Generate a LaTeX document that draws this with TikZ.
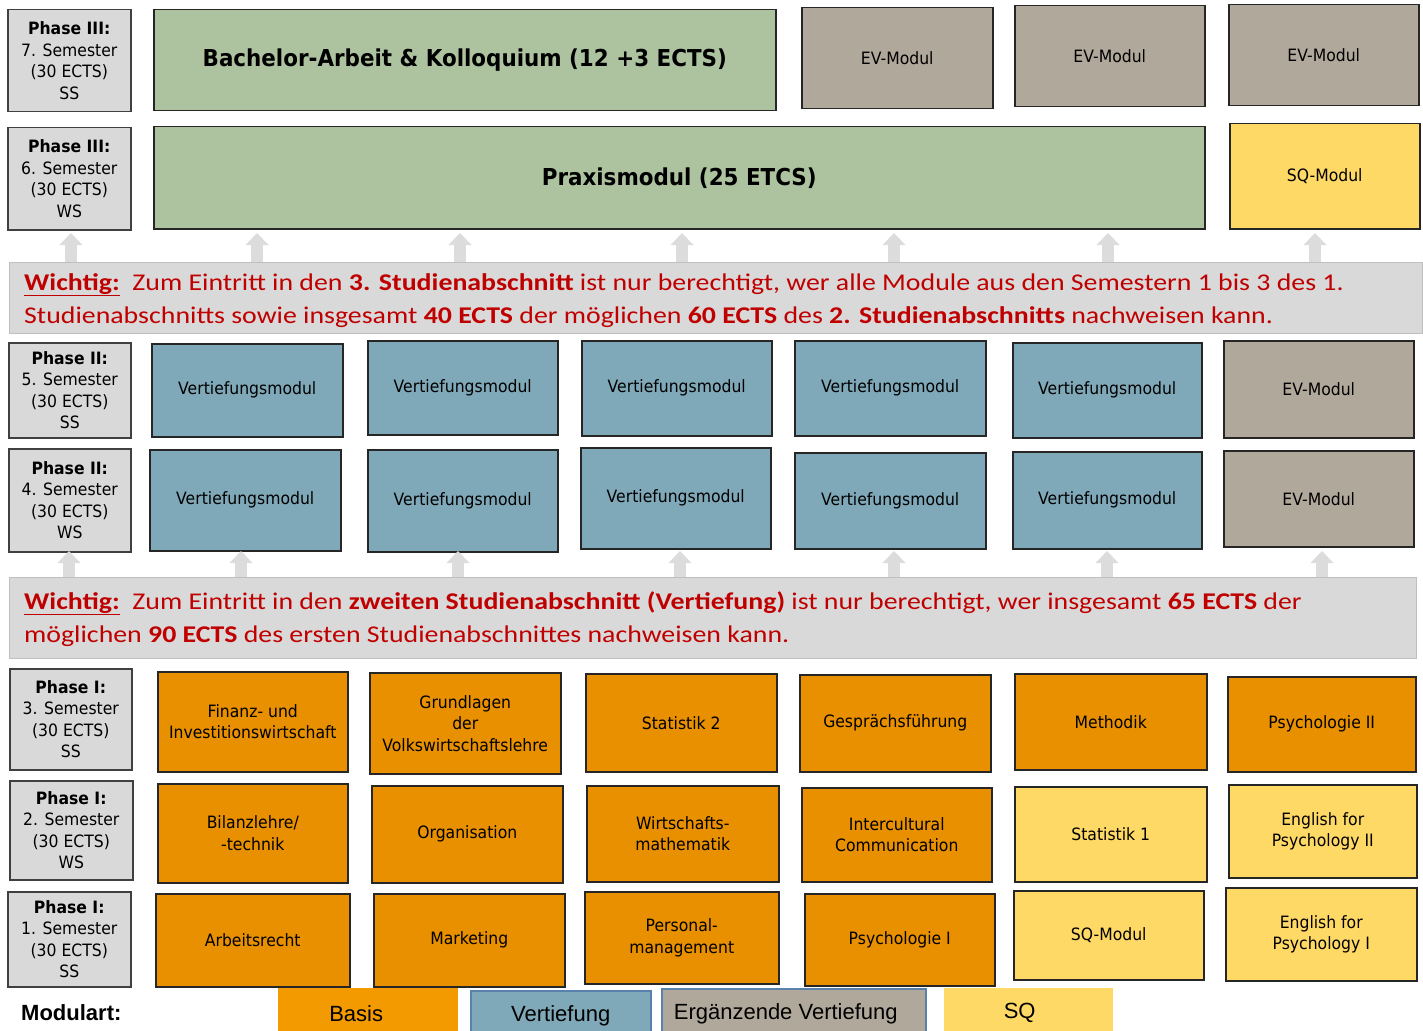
\documentclass[tikz,border=0pt]{standalone}
\usepackage{fontspec}
\setmainfont{DejaVu Sans}[FakeStretch=0.92]
\newfontfamily\noticefont{Carlito}[FakeStretch=1.16]
\newfontfamily\legendfont{Liberation Sans}
\usepackage{xcolor}
\usetikzlibrary{arrows.meta,positioning}
\definecolor{phasegray}{HTML}{D9D9D9}
\definecolor{bargray}{HTML}{BFBFBF}
\definecolor{arrowgray}{HTML}{DCDCDC}
\definecolor{thesisgreen}{HTML}{ADC3A0}
\definecolor{evtaupe}{HTML}{B0A89B}
\definecolor{sqyellow}{HTML}{FFD966}
\definecolor{vertblue}{HTML}{7FA9B8}
\definecolor{basisorange}{HTML}{E89000}
\definecolor{basislegend}{HTML}{F29A00}
\definecolor{legendblue}{HTML}{5A80AC}
\definecolor{noticered}{HTML}{C00000}

\begin{document}
\begin{tikzpicture}[x=1pt,y=-1pt,
	size/.style 2 args={minimum width=#1,minimum height=#2},
	phase/.style={draw=black!75,line width=1.5pt,fill=phasegray,anchor=north west,align=center,inner sep=0pt,font=\fontsize{17}{21.5}\selectfont},
	modul/.style={draw=black!85,line width=1.5pt,anchor=north west,align=center,inner sep=0pt,font=\fontsize{17}{21.5}\selectfont},
	basis/.style={modul,fill=basisorange},
	vert/.style={modul,fill=vertblue},
	ev/.style={modul,fill=evtaupe},
	sq/.style={modul,fill=sqyellow},
	abschluss/.style={modul,fill=thesisgreen,font=\bfseries\fontsize{23.3}{27}\selectfont},
	hinweis/.style={draw=bargray,line width=1pt,fill=phasegray,anchor=north west},
	notice/.style={anchor=base west,inner sep=0pt,text=noticered,font=\noticefont\fontsize{24}{28}\selectfont},
	uparrow/.style={draw=arrowgray,line width=12pt,-{Triangle[width=23pt,length=12pt,line width=0pt]}},
	legende/.style={anchor=north west,inner sep=0pt,font=\legendfont\fontsize{22}{26}\selectfont}]
	\useasboundingbox (0,0) rectangle (1423,1030);

	\node[phase,size={123}{102}] (ph7) at (7,9) {\textbf{Phase III:}\\7. Semester\\(30 ECTS)\\SS};
	\node[abschluss,size={622}{101}] (bachelor) at (153,9) {Bachelor-Arbeit \& Kolloquium (12 +3 ECTS)};
	\node[ev,size={191}{101}] (ev7a) at (801,7) {EV-Modul};
	\node[ev,size={190}{101}] (ev7b) at (1014,5) {EV-Modul};
	\node[ev,size={190}{101}] (ev7c) at (1228,4) {EV-Modul};

	\node[phase,size={123}{102}] (ph6) at (7,127) {\textbf{Phase III:}\\6. Semester\\(30 ECTS)\\WS};
	\node[abschluss,size={1051}{102}] (praxis) at (153,126) {Praxismodul (25 ETCS)};
	\node[sq,size={190}{105}] (sq6) at (1229,123) {SQ-Modul};

	\node[hinweis,size={1413}{71}] (hinweisA) at (9,262) {};
	\foreach \x in {71,257,460,682,894,1108,1315}
		\draw[uparrow] (hinweisA.north -| \x,0) -- ++(0,-29);
	\node[notice] (hinweisA1) at (24,290) {\underline{\textbf{Wichtig:}}\ \ Zum Eintritt in den \textbf{3. Studienabschnitt} ist nur berechtigt, wer alle Module aus den Semestern 1 bis 3 des 1.};
	\node[notice] (hinweisA2) at (24,323) {Studienabschnitts sowie insgesamt \textbf{40 ECTS} der möglichen \textbf{60 ECTS} des \textbf{2. Studienabschnitts} nachweisen kann.};

	\node[phase,size={122}{95}] (ph5) at (8,342) {\textbf{Phase II:}\\5. Semester\\(30 ECTS)\\SS};
	\node[vert,size={191}{93}] (v5a) at (151,343) {Vertiefungsmodul};
	\node[vert,size={190}{94}] (v5b) at (367,340) {Vertiefungsmodul};
	\node[vert,size={190}{95}] (v5c) at (581,340) {Vertiefungsmodul};
	\node[vert,size={191}{95}] (v5d) at (794,340) {Vertiefungsmodul};
	\node[vert,size={189}{95}] (v5e) at (1012,342) {Vertiefungsmodul};
	\node[ev,size={190}{97}] (ev5) at (1223,340) {EV-Modul};

	\node[phase,size={122}{103}] (ph4) at (8,448) {\textbf{Phase II:}\\4. Semester\\(30 ECTS)\\WS};
	\node[vert,size={191}{101}] (v4a) at (149,449) {Vertiefungsmodul};
	\node[vert,size={190}{102}] (v4b) at (367,449) {Vertiefungsmodul};
	\node[vert,size={190}{101}] (v4c) at (580,447) {Vertiefungsmodul};
	\node[vert,size={191}{96}] (v4d) at (794,452) {Vertiefungsmodul};
	\node[vert,size={189}{97}] (v4e) at (1012,451) {Vertiefungsmodul};
	\node[ev,size={190}{96}] (ev4) at (1223,450) {EV-Modul};

	\node[hinweis,size={1407}{81}] (hinweisB) at (9,577) {};
	\foreach \x in {69,241,458,680,894,1107,1322}
		\draw[uparrow] (hinweisB.north -| \x,0) -- ++(0,-26);
	\node[notice] (hinweisB1) at (24,609) {\underline{\textbf{Wichtig:}}\ \ Zum Eintritt in den \textbf{zweiten Studienabschnitt (Vertiefung)} ist nur berechtigt, wer insgesamt \textbf{65 ECTS} der};
	\node[notice] (hinweisB2) at (24,642) {möglichen \textbf{90 ECTS} des ersten Studienabschnittes nachweisen kann.};

	\node[phase,size={122}{101}] (ph3) at (9,668) {\textbf{Phase I:}\\3. Semester\\(30 ECTS)\\SS};
	\node[basis,size={190}{100}] (finanz) at (157,671) {Finanz- und\\Investitionswirtschaft};
	\node[basis,size={191}{101}] (vwl) at (369,672) {Grundlagen\\der\\Volkswirtschaftslehre};
	\node[basis,size={191}{98}] (stat2) at (585,673) {Statistik 2};
	\node[basis,size={191}{97}] (gespraech) at (799,674) {Gesprächsführung};
	\node[basis,size={192}{96}] (methodik) at (1014,673) {Methodik};
	\node[basis,size={188}{95}] (psych2) at (1227,676) {Psychologie II};

	\node[phase,size={123}{99}] (ph2) at (9,780) {\textbf{Phase I:}\\2. Semester\\(30 ECTS)\\WS};
	\node[basis,size={190}{99}] (bilanz) at (157,783) {Bilanzlehre/\\-technik};
	\node[basis,size={191}{97}] (orga) at (371,785) {Organisation};
	\node[basis,size={192}{96}] (wimathe) at (586,785) {Wirtschafts-\\mathematik};
	\node[basis,size={190}{94}] (intercult) at (801,787) {Intercultural\\Communication};
	\node[sq,size={192}{95}] (stat1) at (1014,786) {Statistik 1};
	\node[sq,size={188}{93}] (engl2) at (1228,784) {English for\\Psychology II};

	\node[phase,size={123}{95}] (ph1) at (7,891) {\textbf{Phase I:}\\1. Semester\\(30 ECTS)\\SS};
	\node[basis,size={194}{93}] (arbeitsr) at (155,893) {Arbeitsrecht};
	\node[basis,size={191}{93}] (marketing) at (373,893) {Marketing};
	\node[basis,size={194}{92}] (personal) at (584,891) {Personal-\\management};
	\node[basis,size={190}{92}] (psych1) at (804,893) {Psychologie I};
	\node[sq,size={190}{89}] (sq1) at (1013,890) {SQ-Modul};
	\node[sq,size={191}{93}] (engl1) at (1225,887) {English for\\Psychology I};

	\node[legende,anchor=west,font=\legendfont\bfseries\fontsize{22}{26}\selectfont] (modulart) at (21,1013) {Modulart:};
	\node[legende,fill=basislegend,size={180}{50}] (lgbasis) at (278,988) {Basis\hspace*{24pt}};
	\node[legende,fill=vertblue,draw=legendblue,line width=1.5pt,size={180}{50}] (lgvert) at (470,990) {Vertiefung};
	\node[legende,fill=evtaupe,draw=legendblue,line width=1.5pt,size={264}{50}] (lgev) at (661,988) {Ergänzende Vertiefung\hspace*{16pt}};
	\node[legende,fill=sqyellow,size={169}{50}] (lgsq) at (944,988) {SQ\hspace*{18pt}};
\end{tikzpicture}
\end{document}
